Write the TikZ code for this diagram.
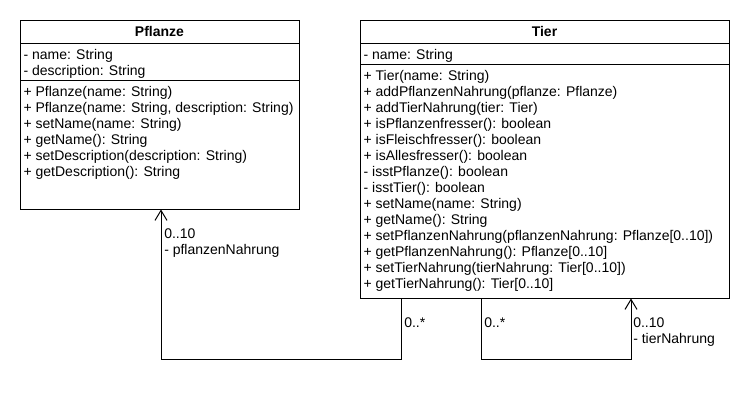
\documentclass[tikz,border=0pt]{standalone}
\usepackage{fontspec}
\setmainfont{Liberation Sans}
\usetikzlibrary{positioning,calc,arrows.meta}

\begin{document}
\begin{tikzpicture}[
   x=0.75pt, y=-0.75pt,
   font=\fontsize{10.5}{12}\selectfont,
   head/.style={draw, line width=0.75pt, outer sep=0pt, inner sep=0pt, minimum height=17.6pt, font=\fontsize{10.5}{12}\selectfont\bfseries},
   part/.style={draw, line width=0.75pt, outer sep=0pt, inner sep=0pt},
   members/.style={anchor=north west, align=left, inner xsep=2.5pt, inner ysep=4.3pt},
   mult/.style={anchor=north west, align=left, inner sep=0pt},
   assoc/.style={-{Straight Barb[length=7.5pt, width=9pt]}, line width=0.75pt}
]
\useasboundingbox (0,0) rectangle (750,400);

% Classes
\node[head, minimum width=209.25pt, anchor=north west] (pflanze) at (20,20) {Pflanze};
\node[part, minimum width=209.25pt, minimum height=27.75pt, below=0pt of pflanze] (pflattr) {};
\node[part, minimum width=209.25pt, minimum height=96.75pt, below=0pt of pflattr] (pflmeth) {};

\node[head, minimum width=276.75pt, anchor=north west] (tier) at (360,20) {Tier};
\node[part, minimum width=276.75pt, minimum height=15.75pt, below=0pt of tier] (tierattr) {};
\node[part, minimum width=276.75pt, minimum height=175.5pt, below=0pt of tierattr] (tiermeth) {};

% Members
\node[members] at (pflattr.north west) {- name: String\\- description: String};
\node[members] at (pflmeth.north west) {+ Pflanze(name: String)\\
   + Pflanze(name: String, description: String)\\
   + setName(name: String)\\
   + getName(): String\\
   + setDescription(description: String)\\
   + getDescription(): String};

\node[members] at (tierattr.north west) {- name: String};
\node[members] at (tiermeth.north west) {+ Tier(name: String)\\
   + addPflanzenNahrung(pflanze: Pflanze)\\
   + addTierNahrung(tier: Tier)\\
   + isPflanzenfresser(): boolean\\
   + isFleischfresser(): boolean\\
   + isAllesfresser(): boolean\\
   - isstPflanze(): boolean\\
   - isstTier(): boolean\\
   + setName(name: String)\\
   + getName(): String\\
   + setPflanzenNahrung(pflanzenNahrung: Pflanze[0..10])\\
   + getPflanzenNahrung(): Pflanze[0..10]\\
   + setTierNahrung(tierNahrung: Tier[0..10])\\
   + getTierNahrung(): Tier[0..10]};

% Associations
\draw[assoc] ($(tiermeth.south west)+(41,0)$) -- ++(0,61) -| ($(pflmeth.south west)+(141,0)$);
\draw[assoc] ($(tiermeth.south west)+(121,0)$) -- ++(0,61) -| ($(tiermeth.south west)+(271,0)$);

% Multiplicities
\node[mult] (pflmult) at ($(pflmeth.south west)+(144,19)$) {0..10\\- pflanzenNahrung};
\node[mult] (tiermult) at ($(tiermeth.south west)+(44,19)$) {0..*};
\node[mult] (selfsrc) at ($(tiermeth.south west)+(124,19)$) {0..*};
\node[mult] (selfdst) at ($(tiermeth.south west)+(273,19)$) {0..10\\- tierNahrung};

\end{tikzpicture}
\end{document}
